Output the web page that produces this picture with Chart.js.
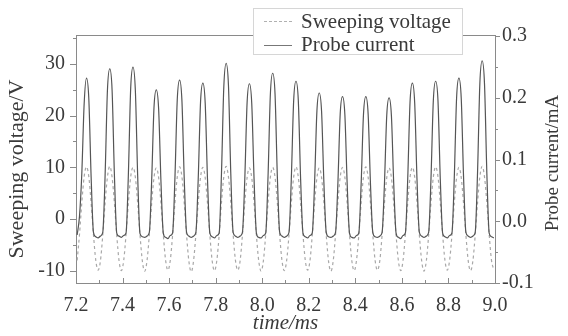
<!DOCTYPE html>
<html>
<head>
<meta charset="utf-8">
<script src="https://cdn.jsdelivr.net/npm/chart.js@4.4.0/dist/chart.umd.min.js"></script>
<style>
  html, body { margin: 0; padding: 0; background: #fff; }
  #wrap { position: relative; width: 568px; height: 336px; }
  #legend {
    position: absolute; left: 253px; top: 8px; width: 208px; height: 45px;
    background: #fff; border: 1px solid #d6d6d6;
    font-family: 'Liberation Serif', 'Times New Roman', serif; font-size: 21px; color: #3a3a3a;
  }
  .row { position: absolute; left: 47px; height: 22px; line-height: 22px; white-space: nowrap; }
  .sample { position: absolute; left: 10px; width: 28px; }
</style>
</head>
<body>
<div id="wrap">
  <canvas id="chart" width="568" height="336"></canvas>
  <div id="legend">
    <div class="sample" style="top:12px;border-top:1.5px dashed #b0b0b0;"></div>
    <div class="row" style="top:1px;">Sweeping voltage</div>
    <div class="sample" style="top:36px;border-top:1px solid #777;"></div>
    <div class="row" style="top:24px;">Probe current</div>
  </div>
</div>
<script>
document.addEventListener("DOMContentLoaded", function () {

  // sampling grid, time in ms (one sample every 0.01 ms)
  const times = Array.from({ length: 180 }, (_, i) => +(7.205 + 0.01 * i).toFixed(3));

  // sweeping voltage, V (one row per sweep period)
  const voltage = [
    -8.0, -3.0, 3.2, 8.2, 10.1, 8.2, 3.1, -3.0, -8.0, -9.9,
    -8.1, -3.1, 3.1, 8.1, 10.2, 8.1, 3.1, -3.1, -8.1, -10.0,
    -8.0, -3.0, 3.1, 8.2, 10.0, 8.1, 3.0, -3.1, -8.1, -10.1,
    -8.1, -3.1, 3.0, 8.0, 9.9, 8.0, 3.1, -3.0, -8.0, -9.9,
    -8.0, -3.1, 3.1, 8.1, 10.1, 8.2, 3.1, -3.1, -8.2, -10.2,
    -8.1, -3.0, 3.1, 8.1, 10.0, 8.0, 3.0, -3.1, -8.1, -10.0,
    -8.0, -3.1, 3.2, 8.2, 10.2, 8.1, 3.1, -3.0, -8.0, -9.9,
    -8.1, -3.1, 3.0, 8.0, 9.9, 8.0, 3.0, -3.1, -8.1, -10.1,
    -8.1, -3.0, 3.1, 8.1, 10.0, 8.1, 3.1, -3.1, -8.1, -10.0,
    -8.0, -3.1, 3.1, 8.1, 10.1, 8.1, 3.0, -3.0, -8.0, -9.9,
    -8.1, -3.1, 3.0, 8.0, 9.9, 8.0, 3.1, -3.1, -8.2, -10.1,
    -8.1, -3.0, 3.1, 8.1, 10.0, 8.1, 3.0, -3.1, -8.1, -10.0,
    -8.0, -3.1, 3.1, 8.2, 10.1, 8.1, 3.1, -3.0, -8.0, -9.9,
    -8.1, -3.1, 3.0, 8.0, 9.9, 8.0, 3.0, -3.1, -8.1, -10.0,
    -8.0, -3.0, 3.1, 8.1, 10.0, 8.1, 3.1, -3.1, -8.1, -10.1,
    -8.1, -3.1, 3.1, 8.1, 10.1, 8.2, 3.1, -3.0, -8.0, -9.9,
    -8.0, -3.1, 3.0, 8.0, 10.0, 8.0, 3.0, -3.1, -8.1, -10.0,
    -8.1, -3.1, 3.1, 8.2, 10.2, 8.1, 3.1, -3.0, -8.0, -9.8
  ];

  // probe current, mA
  const current = [
    -0.022, 0.008, 0.078, 0.190, 0.232, 0.199, 0.072, -0.018, -0.025, -0.027,
    -0.024, -0.018, 0.074, 0.212, 0.247, 0.213, 0.075, -0.019, -0.024, -0.026,
    -0.023, -0.019, 0.076, 0.216, 0.250, 0.212, 0.073, -0.020, -0.025, -0.026,
    -0.024, -0.018, 0.065, 0.184, 0.213, 0.182, 0.064, -0.019, -0.026, -0.028,
    -0.023, -0.019, 0.070, 0.197, 0.229, 0.196, 0.069, -0.018, -0.024, -0.026,
    -0.024, -0.018, 0.068, 0.193, 0.224, 0.192, 0.067, -0.019, -0.025, -0.027,
    -0.023, -0.019, 0.078, 0.218, 0.256, 0.220, 0.077, -0.018, -0.024, -0.026,
    -0.024, -0.018, 0.067, 0.192, 0.223, 0.191, 0.068, -0.019, -0.026, -0.027,
    -0.023, -0.019, 0.073, 0.206, 0.240, 0.207, 0.072, -0.018, -0.024, -0.026,
    -0.024, -0.018, 0.069, 0.195, 0.227, 0.196, 0.068, -0.019, -0.025, -0.027,
    -0.023, -0.019, 0.063, 0.179, 0.208, 0.178, 0.062, -0.018, -0.025, -0.026,
    -0.024, -0.018, 0.061, 0.174, 0.202, 0.173, 0.060, -0.019, -0.026, -0.027,
    -0.023, -0.019, 0.061, 0.173, 0.202, 0.174, 0.061, -0.018, -0.025, -0.026,
    -0.024, -0.018, 0.060, 0.172, 0.200, 0.171, 0.060, -0.019, -0.026, -0.028,
    -0.023, -0.019, 0.068, 0.193, 0.224, 0.192, 0.067, -0.018, -0.024, -0.026,
    -0.024, -0.018, 0.069, 0.195, 0.227, 0.196, 0.068, -0.019, -0.025, -0.027,
    -0.023, -0.019, 0.070, 0.200, 0.232, 0.199, 0.071, -0.018, -0.024, -0.026,
    -0.024, -0.018, 0.079, 0.224, 0.260, 0.222, 0.078, -0.019, -0.025, -0.027
  ];

  const serif = "'Liberation Serif', 'Times New Roman', serif";
  const textColor = '#3a3a3a';
  const axisColor = '#8a8a8a';

  // frame top line, inward x ticks, outward y ticks, y titles
  const framePlugin = {
    id: 'frame',
    afterDraw(chart) {
      const { ctx, chartArea: a, scales } = chart;
      ctx.save();
      ctx.strokeStyle = axisColor;
      ctx.lineWidth = 1;
      ctx.beginPath();
      ctx.moveTo(a.left, a.top + 0.5);
      ctx.lineTo(a.right, a.top + 0.5);
      scales.x.ticks.forEach(t => {
        const px = Math.round(scales.x.getPixelForValue(t.value)) + 0.5;
        const len = Math.round(t.value * 10) % 2 === 0 ? 5 : 3;
        ctx.moveTo(px, a.bottom);
        ctx.lineTo(px, a.bottom - len);
      });
      scales.y.ticks.forEach(t => {
        const py = Math.round(scales.y.getPixelForValue(t.value)) + 0.5;
        const len = t.value % 10 === 0 ? 6 : 3;
        ctx.moveTo(a.left, py);
        ctx.lineTo(a.left - len, py);
      });
      scales.y1.ticks.forEach(t => {
        const py = Math.round(scales.y1.getPixelForValue(t.value)) + 0.5;
        const len = Math.round(t.value * 100) % 10 === 0 ? 5 : 3;
        ctx.moveTo(a.right, py);
        ctx.lineTo(a.right + len, py);
      });
      ctx.stroke();

      ctx.fillStyle = textColor;
      ctx.textAlign = 'center';
      ctx.textBaseline = 'middle';
      ctx.save();
      ctx.translate(17, 169);
      ctx.rotate(-Math.PI / 2);
      ctx.font = '22px ' + serif;
      ctx.fillText('Sweeping voltage/V', 0, 0);
      ctx.restore();
      ctx.save();
      ctx.translate(553, 163);
      ctx.rotate(-Math.PI / 2);
      ctx.font = '19px ' + serif;
      ctx.fillText('Probe current/mA', 0, 0);
      ctx.restore();
      ctx.restore();
    }
  };

  const ctx = document.getElementById('chart');

  new Chart(ctx, {
    type: 'line',
    data: {
      datasets: [{
        label: 'Probe current',
        data: times.map((t, i) => ({ x: t, y: current[i] })),
        yAxisID: 'y1',
        borderColor: '#555555',
        borderWidth: 1.2,
        pointRadius: 0,
        cubicInterpolationMode: 'monotone',
        order: 0
      }, {
        label: 'Sweeping voltage',
        data: times.map((t, i) => ({ x: t, y: voltage[i] })),
        yAxisID: 'y',
        borderColor: '#a8a8a8',
        borderWidth: 1.2,
        borderDash: [3, 3],
        pointRadius: 0,
        cubicInterpolationMode: 'monotone',
        order: 1
      }]
    },
    options: {
      responsive: false,
      animation: false,
      layout: { padding: { top: 35, left: 0, right: 0, bottom: 0 } },
      plugins: {
        legend: { display: false },
        tooltip: { enabled: false }
      },
      scales: {
        x: {
          type: 'linear',
          min: 7.2,
          max: 9.0,
          grid: { display: true, drawOnChartArea: false, drawTicks: false },
          border: { color: axisColor },
          ticks: {
            stepSize: 0.1,
            autoSkip: false,
            maxRotation: 0,
            padding: 11,
            color: textColor,
            font: { family: serif, size: 20 },
            callback: v => Math.round(v * 10) % 2 === 0 ? v.toFixed(1) : ''
          },
          title: {
            display: true,
            text: 'time/ms',
            color: textColor,
            font: { family: serif, size: 21, style: 'italic' },
            padding: { top: 0, bottom: 0 }
          },
          afterFit: s => { s.height = 53; }
        },
        y: {
          position: 'left',
          min: -12.38,
          max: 35.6,
          grid: { display: true, drawOnChartArea: false, drawTicks: false },
          border: { color: axisColor },
          ticks: {
            stepSize: 5,
            includeBounds: false,
            padding: 11,
            color: textColor,
            font: { family: serif, size: 20 },
            callback: v => v % 10 === 0 ? v : ''
          },
          afterFit: s => { s.width = 76; }
        },
        y1: {
          position: 'right',
          min: -0.1,
          max: 0.302,
          grid: { display: true, drawOnChartArea: false, drawTicks: false },
          border: { color: axisColor },
          ticks: {
            stepSize: 0.05,
            includeBounds: false,
            padding: 7,
            color: textColor,
            font: { family: serif, size: 20 },
            callback: v => Math.round(v * 100) % 10 === 0 ? v.toFixed(1) : ''
          },
          afterFit: s => { s.width = 73; }
        }
      }
    },
    plugins: [framePlugin]
  });

});
</script>
</body>
</html>
